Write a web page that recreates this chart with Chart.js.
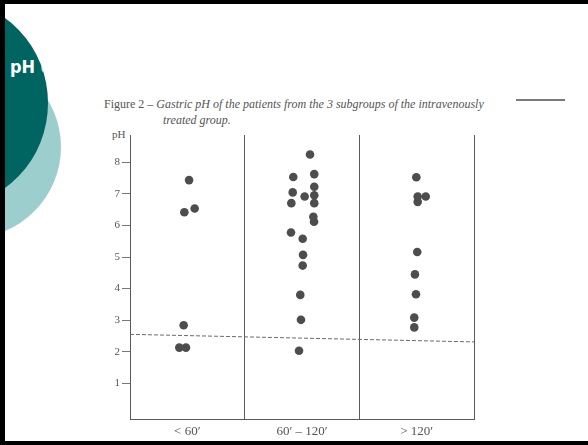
<!DOCTYPE html>
<html>
<head>
<meta charset="utf-8">
<script src="https://cdn.jsdelivr.net/npm/chart.js@4"></script>
<style>
  body { margin: 0; width: 588px; height: 445px; overflow: hidden; background: #fff; position: relative; }
  .bar { position: absolute; background: #000; z-index: 5; }
  .circle { position: absolute; border-radius: 50%; overflow: hidden; }
  #light { left: -121px; top: 56px; width: 182px; height: 182px; background: #9ccece; }
  #dark { left: -150px; top: 0px; width: 198px; height: 206px; background: #006461; z-index: 2; }
  #slideTitle { position: absolute; left: 160px; top: 56px; color: #fff; font: bold 18px "DejaVu Sans Condensed", "DejaVu Sans", sans-serif; white-space: nowrap; }
  .fig { position: absolute; font-family: "Liberation Serif", "DejaVu Serif", serif; font-size: 12px; color: #555; white-space: nowrap; }
  #c { position: absolute; left: 0; top: 0; z-index: 3; }
</style>
</head>
<body>
<div class="bar" style="left:0;top:0;width:588px;height:4px"></div>
<div class="bar" style="left:0;top:0;width:5px;height:445px"></div>
<div class="bar" style="left:0;top:441px;width:588px;height:4px"></div>
<div id="light" class="circle"></div>
<div id="dark" class="circle"><div id="slideTitle">pH d</div></div>
<div style="position:absolute;left:516px;top:99px;width:49px;height:2px;background:#7a7a7a"></div>
<div class="fig" style="left:104px;top:97px">Figure 2 – <i>Gastric pH of the patients from the 3 subgroups of the intravenously</i></div>
<div class="fig" style="left:163px;top:113px"><i>treated group.</i></div>
<div class="fig" style="left:112px;top:128px;font-size:11px">pH</div>
<canvas id="c" width="588" height="445"></canvas>
<script>
// group names on the x axis
const groups = ["< 60′", "60′ – 120′", "> 120′"];
const yTicks = [1, 2, 3, 4, 5, 6, 7, 8];

// gastric pH per patient, with the horizontal spread
const lt60pH = [7.44, 6.42, 6.54, 2.84, 2.13, 2.13];
const lt60Jitter = [0.015, -0.026, 0.064, -0.032, -0.07, -0.012];

const mid120pH = [8.25, 7.54, 7.63, 7.05, 7.23, 6.92, 6.96, 6.71, 6.71, 6.28, 6.12, 5.78, 5.58, 5.07, 4.73, 3.80, 3.01, 2.03];
const mid120Jitter = [0.07, -0.076, 0.107, -0.081, 0.107, 0.023, 0.107, -0.093, 0.107, 0.099, 0.105, -0.096, 0.006, 0.009, 0.006, -0.015, -0.009, -0.026];

const gt120pH = [7.53, 6.92, 6.92, 6.75, 5.16, 4.45, 3.82, 3.08, 2.77];
const gt120Jitter = [-0.003, 0.009, 0.079, 0.009, 0.005, -0.015, -0.006, -0.021, -0.021];

// dashed reference line (ends, as it sits on the scan)
const cutoffX = [0, 3];
const cutoffPH = [2.55, 2.31];

const toPoints = (g, ph, jit) => ph.map((v, i) => ({ x: g + 0.5 + jit[i], y: v }));

const dotStyle = {
  pointRadius: 4.3,
  pointHoverRadius: 4.3,
  backgroundColor: "#4d4d4d",
  borderColor: "#4d4d4d",
  borderWidth: 0,
};

new Chart(document.getElementById("c"), {
  type: "scatter",
  data: {
    datasets: [
      { data: cutoffX.map((x, i) => ({ x: x, y: cutoffPH[i] })), showLine: true, pointRadius: 0,
        borderColor: "#6a6a6a", borderWidth: 1, borderDash: [4, 2] },
      { data: toPoints(0, lt60pH, lt60Jitter), ...dotStyle },
      { data: toPoints(1, mid120pH, mid120Jitter), ...dotStyle },
      { data: toPoints(2, gt120pH, gt120Jitter), ...dotStyle },
    ],
  },
  options: {
    responsive: false,
    animation: false,
    layout: { padding: { left: 90, right: 114, top: 135, bottom: 0.5 } },
    plugins: { legend: { display: false }, tooltip: { enabled: false } },
    scales: {
      x: {
        type: "linear",
        min: 0,
        max: 3,
        afterBuildTicks: (scale) => {
          scale.ticks = [0, 0.5, 1, 1.5, 2, 2.5, 3].map((v) => ({ value: v }));
        },
        afterFit: (scale) => { scale.height = 25; },
        ticks: {
          autoSkip: false,
          maxRotation: 0,
          padding: 4,
          color: "#555",
          font: { family: "Liberation Serif", size: 13 },
          callback: (v) => (Number.isInteger(v) ? "" : groups[Math.floor(v)]),
        },
        grid: {
          drawTicks: false,
          lineWidth: 1,
          color: (ctx) => (ctx.tick && Number.isInteger(ctx.tick.value) && ctx.tick.value > 0 ? "#5a5a5a" : "rgba(0,0,0,0)"),
        },
        border: { display: true, color: "#5a5a5a", width: 1 },
      },
      y: {
        min: -0.15,
        max: 8.87,
        afterBuildTicks: (scale) => {
          scale.ticks = yTicks.map((v) => ({ value: v }));
        },
        afterFit: (scale) => { scale.width = 40; },
        ticks: {
          padding: 2,
          color: "#555",
          font: { family: "Liberation Serif", size: 11 },
        },
        grid: { drawOnChartArea: false, drawTicks: true, tickLength: 8, color: "#777" },
        border: { display: true, color: "#5a5a5a", width: 1 },
      },
    },
  },
});
</script>
</body>
</html>
